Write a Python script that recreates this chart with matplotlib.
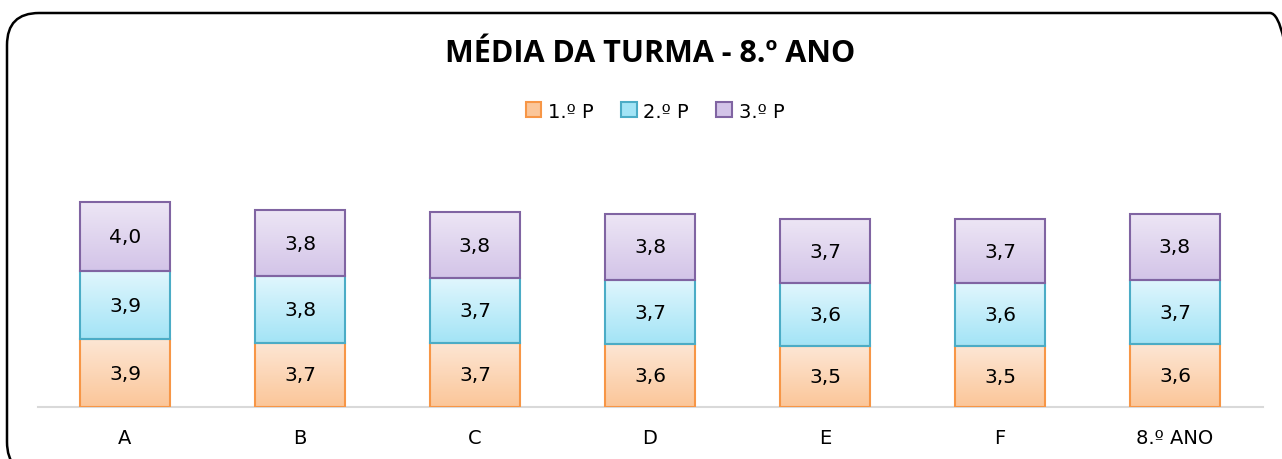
import numpy as np
import matplotlib.pyplot as plt
from matplotlib.patches import FancyBboxPatch
from matplotlib.colors import LinearSegmentedColormap

plt.rcParams['font.family'] = ['DejaVu Sans']

turmas = ["A", "B", "C", "D", "E", "F", "8.º ANO"]
p1 = [3.9, 3.7, 3.7, 3.6, 3.5, 3.5, 3.6]
p2 = [3.9, 3.8, 3.7, 3.7, 3.6, 3.6, 3.7]
p3 = [4.0, 3.8, 3.8, 3.8, 3.7, 3.7, 3.8]
series_names = ["1.º P", "2.º P", "3.º P"]

# (top colour, bottom colour, edge)
styles = [("#fde6d4", "#fbc699", "#f79646"),
          ("#e0f6fd", "#a3e4f6", "#4bacc6"),
          ("#ede6f5", "#d3c4e8", "#8064a2")]

W, H = 1282, 460
fig = plt.figure(figsize=(W / 100, H / 100), dpi=100)
ax = fig.add_axes([37.5 / W, (H - 408) / H, 1225 / W, 228 / H])

x = np.arange(len(turmas))
bottom = np.zeros(len(turmas))
handles = []
for vals, name, (ctop, cbot, edge) in zip([p1, p2, p3], series_names, styles):
    vals = np.array(vals)
    bars = ax.bar(x, vals, 0.514, bottom=bottom, color=cbot, edgecolor=edge,
                  linewidth=1.5, label=name, zorder=3)
    cmap = LinearSegmentedColormap.from_list("g", [cbot, ctop])
    grad = np.linspace(0, 1, 100).reshape(-1, 1)
    for b in bars:
        x0, y0 = b.get_x(), b.get_y()
        im = ax.imshow(grad, cmap=cmap, aspect="auto", origin="lower",
                       extent=[x0, x0 + b.get_width(), y0, y0 + b.get_height()],
                       zorder=3.5)
        im.set_clip_path(b)
        b.set_facecolor("none")
        b.set_zorder(4)
    for xi, v, bt in zip(x, vals, bottom):
        ax.text(xi, bt + v / 2, f"{v:.1f}".replace(".", ","), ha="center",
                va="center", fontsize=14.5, color="black", zorder=5)
    handles.append(bars)
    bottom += vals

ax.set_xlim(-0.5, 6.5)
ax.set_ylim(0, 13.1)
ax.set_xticks(x)
ax.set_xticklabels(turmas, fontsize=14)
ax.tick_params(axis="x", length=0, pad=15)
ax.set_yticks([])
for s in ["top", "left", "right"]:
    ax.spines[s].set_visible(False)
ax.spines["bottom"].set_color("#d9d9d9")
ax.spines["bottom"].set_linewidth(1.5)

fig.text(650 / W, 1 - 54 / H, "MÉDIA DA TURMA - 8.º ANO", ha="center",
         va="center", fontsize=22, fontweight="bold",
         family=["Open Sans", "DejaVu Sans"])
leg = fig.legend(handles=handles, labels=series_names, loc="center",
                 bbox_to_anchor=(655 / W, 1 - 112 / H), ncol=3, frameon=False,
                 fontsize=14, handlelength=0.8, handleheight=0.8,
                 handletextpad=0.35, columnspacing=1.4)
for h, (ctop, cbot, edge) in zip(leg.legend_handles, styles):
    h.set_facecolor(cbot)
    h.set_edgecolor(edge)

border = FancyBboxPatch((7 / W, 1 - 475 / H), 1295 / W, 461 / H,
                        boxstyle="round,pad=0,rounding_size=0.025",
                        transform=fig.transFigure, fill=False,
                        edgecolor="black", linewidth=1.8,
                        mutation_aspect=W / H)
fig.patches.append(border)

fig.savefig("out.png", dpi=100)
